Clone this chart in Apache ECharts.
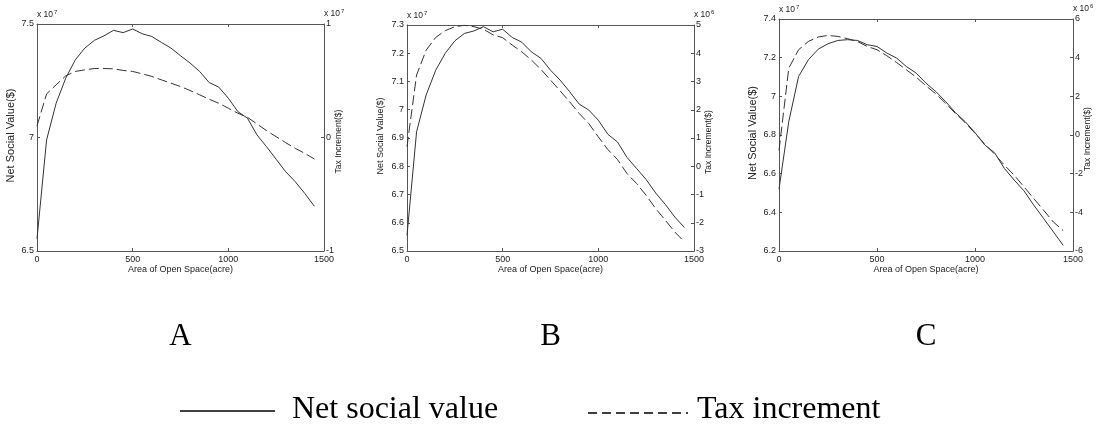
<!DOCTYPE html>
<html>
<head>
<meta charset="utf-8">
<script src="https://cdn.jsdelivr.net/npm/echarts@6/dist/echarts.min.js"></script>
<style>
html,body{margin:0;padding:0;background:#fff;}
#chart{width:1098px;height:431px;}
</style>
</head>
<body>
<div id="chart"></div>
<script>
// Area of open space (acre)
const areas = [0,50,100,150,200,250,300,350,400,450,500,550,600,650,700,750,800,850,900,950,1000,1050,1100,1150,1200,1250,1300,1350,1400,1450];

// Panel A: net social value (x10^7 $), tax increment (x10^7 $)
const netA = [6.554,6.989,7.151,7.261,7.342,7.394,7.428,7.448,7.472,7.462,7.478,7.457,7.445,7.419,7.394,7.360,7.328,7.291,7.242,7.222,7.173,7.114,7.085,7.011,6.959,6.904,6.849,6.805,6.753,6.697];
const taxA = [0.102,0.384,0.464,0.543,0.582,0.596,0.608,0.608,0.605,0.591,0.582,0.561,0.538,0.508,0.479,0.449,0.414,0.376,0.337,0.302,0.258,0.214,0.178,0.119,0.060,0.007,-0.046,-0.096,-0.140,-0.190];

// Panel B: net social value (x10^7 $), tax increment (x10^6 $)
const netB = [6.555,6.922,7.052,7.140,7.200,7.244,7.270,7.279,7.294,7.276,7.285,7.256,7.239,7.205,7.182,7.140,7.105,7.064,7.020,6.999,6.963,6.913,6.886,6.831,6.792,6.753,6.705,6.665,6.620,6.583];
const taxB = [0.69,3.23,4.11,4.56,4.80,4.94,4.99,4.94,4.85,4.65,4.55,4.29,4.05,3.76,3.43,3.05,2.67,2.28,1.87,1.51,1.04,0.59,0.24,-0.26,-0.61,-1.03,-1.50,-1.91,-2.33,-2.68];

// Panel C: net social value (x10^7 $), tax increment (x10^6 $)
const netC = [6.52,6.87,7.103,7.189,7.244,7.272,7.289,7.293,7.289,7.267,7.258,7.224,7.198,7.154,7.120,7.068,7.025,6.973,6.916,6.869,6.812,6.748,6.708,6.627,6.567,6.511,6.437,6.368,6.299,6.229];
const taxC = [-0.8,3.46,4.41,4.84,5.07,5.15,5.10,4.98,4.84,4.58,4.41,4.10,3.75,3.37,2.99,2.54,2.13,1.64,1.12,0.64,0.09,-0.47,-0.99,-1.56,-2.08,-2.68,-3.29,-3.89,-4.50,-4.95];

const panelLabels = ['A','B','C'];
const xTitle = 'Area of Open Space(acre)';
const leftTitle = 'Net Social Value($)';
const rightTitle = 'Tax Increment($)';
const legendNames = ['Net social value','Tax increment'];

const leftRanges = [[6.5,7.5,0.5],[6.5,7.3,0.1],[6.2,7.4,0.2]];
const rightRanges = [[-1,1,1],[-3,5,1],[-6,6,2]];
const leftExp = ['7','7','7'];
const rightExp = ['7','6','6'];
const netSeries = [netA,netB,netC];
const taxSeries = [taxA,taxB,taxC];

const grids = [
  {left:37, top:24, width:287, height:227},
  {left:407, top:25, width:287, height:226},
  {left:779, top:19, width:294, height:232}
];
const leftTitleFont = [11, 9, 11];

const AX = '#555';
const TXT = '#222';
const sans = 'Liberation Sans, Arial, sans-serif';
const serif = 'Liberation Serif, Times New Roman, serif';
const plain = v => String(Math.round(v * 1000) / 1000);

const xAxes = [], yAxes = [], series = [], graphics = [];
grids.forEach((g, i) => {
  xAxes.push({
    type:'value', gridIndex:i, min:0, max:1500, interval:500, position:'bottom',
    axisLine:{show:true, onZero:false, lineStyle:{color:AX, width:1}},
    axisTick:{show:true, inside:true, length:3, lineStyle:{color:AX}},
    axisLabel:{color:TXT, fontSize:9, fontFamily:sans, margin:4, formatter:plain},
    splitLine:{show:false}
  });
  xAxes.push({
    type:'value', gridIndex:i, min:0, max:1500, interval:500, position:'top',
    axisLine:{show:true, onZero:false, lineStyle:{color:AX, width:1}},
    axisTick:{show:true, inside:true, length:3, lineStyle:{color:AX}},
    axisLabel:{show:false}, splitLine:{show:false}
  });
  const L = leftRanges[i], R = rightRanges[i];
  yAxes.push({
    type:'value', gridIndex:i, min:L[0], max:L[1], interval:L[2], position:'left',
    axisLine:{show:true, onZero:false, lineStyle:{color:AX, width:1}},
    axisTick:{show:true, inside:true, length:3, lineStyle:{color:AX}},
    axisLabel:{color:TXT, fontSize:9, fontFamily:sans, margin:3, formatter:plain},
    splitLine:{show:false},
    name:'{a|x 10}{s|' + leftExp[i] + '}', nameLocation:'end', nameGap:2,
    nameTextStyle:{align:'left', verticalAlign:'bottom', rich:{
      a:{fontSize:8.5, fontFamily:sans, color:TXT},
      s:{fontSize:6, fontFamily:sans, color:TXT, padding:[0,0,6,1]}
    }}
  });
  yAxes.push({
    type:'value', gridIndex:i, min:R[0], max:R[1], interval:R[2], position:'right',
    axisLine:{show:true, onZero:false, lineStyle:{color:AX, width:1}},
    axisTick:{show:true, inside:true, length:3, lineStyle:{color:AX}},
    axisLabel:{color:TXT, fontSize:9, fontFamily:sans, margin:2, formatter:plain},
    splitLine:{show:false},
    name:'{a|x 10}{s|' + rightExp[i] + '}', nameLocation:'end', nameGap:4,
    nameTextStyle:{align:'left', verticalAlign:'bottom', rich:{
      a:{fontSize:8.5, fontFamily:sans, color:TXT},
      s:{fontSize:6, fontFamily:sans, color:TXT, padding:[0,0,6,1]}
    }}
  });
  series.push({
    name:legendNames[0], type:'line', xAxisIndex:i*2, yAxisIndex:i*2,
    data:areas.map((x,k)=>[x, netSeries[i][k]]), showSymbol:false, smooth:false,
    lineStyle:{color:'#333', width:1}, silent:true, animation:false
  });
  series.push({
    name:legendNames[1], type:'line', xAxisIndex:i*2, yAxisIndex:i*2+1,
    data:areas.map((x,k)=>[x, taxSeries[i][k]]), showSymbol:false, smooth:false,
    lineStyle:{color:'#333', width:1, type:[10,4]}, silent:true, animation:false
  });
  const cx = g.left + g.width/2;
  const cy = g.top + g.height/2;
  graphics.push({type:'text', x:cx, y:g.top + g.height + 19, style:{text:xTitle, fill:TXT, font:'9px ' + sans, textAlign:'center', textVerticalAlign:'middle'}});
  graphics.push({type:'text', x:g.left - 26, y:cy - 2, rotation:Math.PI/2, style:{text:leftTitle, fill:TXT, font:leftTitleFont[i] + 'px ' + sans, textAlign:'center', textVerticalAlign:'middle'}});
  graphics.push({type:'text', x:g.left + g.width + 15, y:cy + 4, rotation:Math.PI/2, style:{text:rightTitle, fill:TXT, font:'8.5px ' + sans, textAlign:'center', textVerticalAlign:'middle'}});
  graphics.push({type:'text', x:cx, y:337, style:{text:panelLabels[i], fill:'#000', font:'31px ' + serif, textAlign:'center', textVerticalAlign:'middle'}});
});

// legend row
graphics.push({type:'line', shape:{x1:180, y1:411, x2:275, y2:411}, style:{stroke:'#000', lineWidth:1.5}});
graphics.push({type:'text', x:292, y:410, style:{text:legendNames[0], fill:'#000', font:'32px ' + serif, textAlign:'left', textVerticalAlign:'middle'}});
graphics.push({type:'line', shape:{x1:588, y1:413, x2:688, y2:413}, style:{stroke:'#000', lineWidth:1.5, lineDash:[9,5]}});
graphics.push({type:'text', x:697, y:410, style:{text:legendNames[1], fill:'#000', font:'32px ' + serif, textAlign:'left', textVerticalAlign:'middle'}});

const chart = echarts.init(document.getElementById('chart'), null, {renderer:'canvas'});
chart.setOption({
  animation:false,
  backgroundColor:'#fff',
  grid:grids.map(g=>Object.assign({containLabel:false}, g)),
  xAxis:xAxes, yAxis:yAxes, series:series, graphic:graphics
});
</script>
</body>
</html>
